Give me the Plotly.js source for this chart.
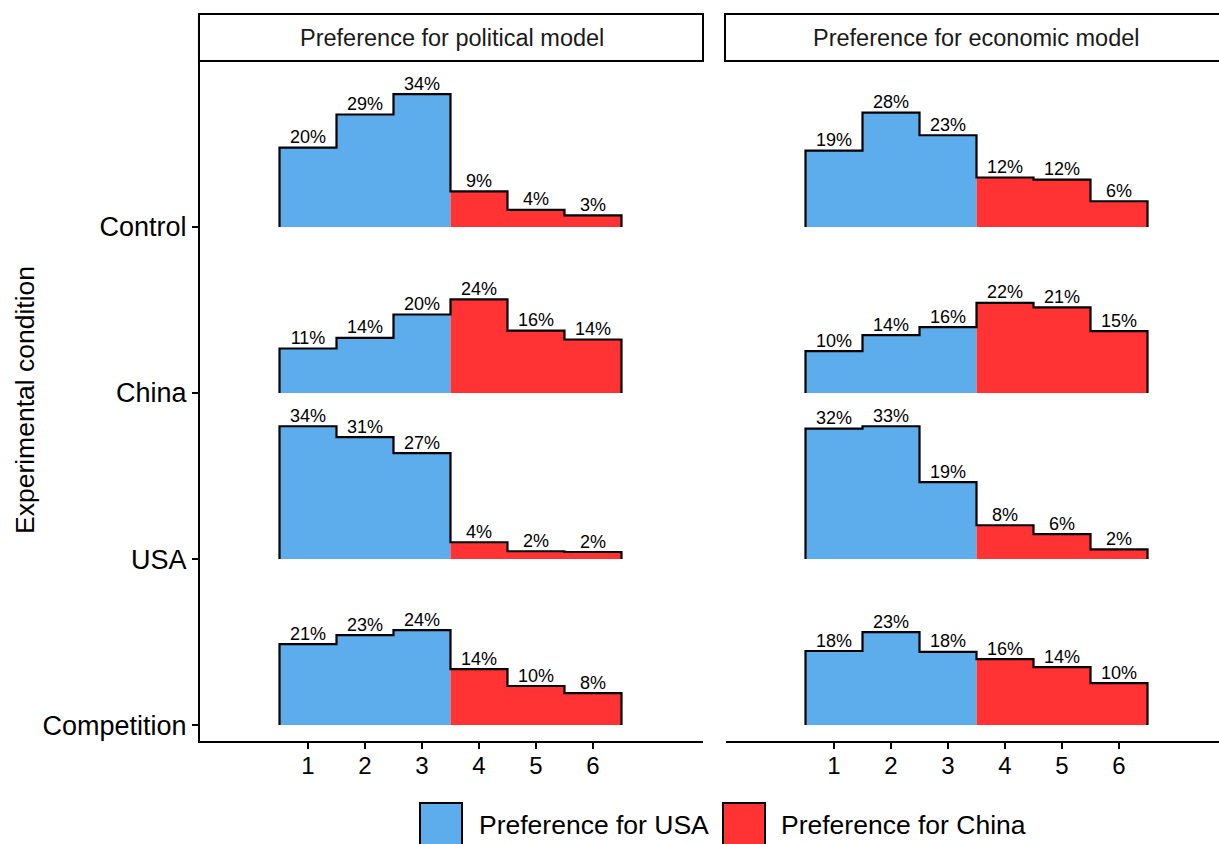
<!DOCTYPE html>
<html>
<head>
<meta charset="utf-8">
<script src="https://cdn.plot.ly/plotly-3.0.1.min.js"></script>
<style>
  html, body { margin: 0; padding: 0; background: #ffffff; }
  #chart { width: 1219px; height: 844px; }
</style>
</head>
<body>
<div id="chart"></div>
<script>
// ---- Data ----
const levels = [1, 2, 3, 4, 5, 6];
const conditions = ["Competition", "USA", "China", "Control"]; // bottom to top
const panels = ["Preference for political model", "Preference for economic model"];
const legendNames = ["Preference for USA", "Preference for China"];

// Percent of respondents at each level (1-6), per condition
const politicalControl     = [20.3, 28.8, 34.0, 9.1, 4.4, 3.0];
const politicalChina       = [11.4, 14.1, 20.1, 24.0, 16.0, 13.7];
const politicalUSA         = [34.0, 31.2, 27.1, 4.3, 2.0, 1.8];
const politicalCompetition = [20.7, 23.0, 24.3, 14.3, 10.0, 8.2];

const economicControl     = [19.0, 28.4, 22.8, 12.3, 11.8, 6.4];
const economicChina       = [10.4, 14.4, 16.4, 22.4, 21.3, 15.4];
const economicUSA         = [32.4, 33.0, 19.1, 8.4, 6.2, 2.4];
const economicCompetition = [18.4, 23.1, 18.2, 16.4, 14.4, 10.4];

const panelData = [
  { Competition: politicalCompetition, USA: politicalUSA, China: politicalChina, Control: politicalControl },
  { Competition: economicCompetition, USA: economicUSA, China: economicChina, Control: economicControl }
];

// ---- Styling ----
const BLUE = "#5DACEB";
const RED = "#FF3333";
const FONT = "Liberation Sans, Arial, Helvetica, sans-serif";
const RIDGE_SCALE = 0.8; // tallest step in a panel spans 0.8 of the row spacing

const traces = [];
panelData.forEach((pd, p) => {
  const xa = p === 0 ? "x" : "x2";
  const ya = p === 0 ? "y" : "y2";
  const maxV = Math.max(...conditions.flatMap(c => pd[c]));
  conditions.forEach((cond, ci) => {
    const vals = pd[cond];
    const base = ci;
    const h = vals.map(v => base + v / maxV * RIDGE_SCALE);
    // filled parts: levels 1-3 (USA) and 4-6 (China)
    [[0, 3, BLUE], [3, 6, RED]].forEach(([a, b, col]) => {
      const xs = [levels[a] - 0.5], ys = [base];
      for (let i = a; i < b; i++) {
        xs.push(levels[i] - 0.5, levels[i] + 0.5);
        ys.push(h[i], h[i]);
      }
      xs.push(levels[b - 1] + 0.5);
      ys.push(base);
      traces.push({
        type: "scatter", mode: "lines", x: xs, y: ys, xaxis: xa, yaxis: ya,
        fill: "toself", fillcolor: col, line: { width: 0, color: col },
        hoverinfo: "skip", showlegend: false
      });
    });
    // outline
    const ox = [levels[0] - 0.5], oy = [base];
    levels.forEach((lv, i) => { ox.push(lv - 0.5, lv + 0.5); oy.push(h[i], h[i]); });
    ox.push(levels[levels.length - 1] + 0.5); oy.push(base);
    traces.push({
      type: "scatter", mode: "lines", x: ox, y: oy, xaxis: xa, yaxis: ya,
      line: { width: 2.2, color: "#000000", shape: "linear" },
      hoverinfo: "skip", showlegend: false
    });
    // labels
    traces.push({
      type: "scatter", mode: "text", x: levels, y: h, xaxis: xa, yaxis: ya,
      text: vals.map(v => Math.round(v) + "%"), textposition: "top center",
      textfont: { family: FONT, size: 18, color: "#000000" },
      hoverinfo: "skip", showlegend: false, cliponaxis: false
    });
  });
});

const xCommon = {
  tickmode: "array", tickvals: levels, ticktext: levels.map(String),
  showgrid: false, zeroline: false, showline: true, linecolor: "#000", linewidth: 2,
  ticks: "outside", ticklen: 6, tickwidth: 2, tickcolor: "#000", ticklabelstandoff: -4,
  tickfont: { family: FONT, size: 24, color: "#000" }, fixedrange: true
};
const yCommon = {
  range: [-0.096, 4.0], showgrid: false, zeroline: false, fixedrange: true,
  tickmode: "array", tickvals: conditions.map((c, i) => i), ticktext: conditions
};

const domL = [0, 503 / 1019], domR = [526 / 1019, 1];

const layout = {
  width: 1219, height: 844,
  margin: { l: 200, r: 0, t: 61, b: 103 },
  paper_bgcolor: "#fff", plot_bgcolor: "#fff",
  showlegend: false,
  font: { family: FONT, color: "#000" },
  xaxis: Object.assign({}, xCommon, { domain: domL, range: [-0.8947, 7.93], anchor: "y" }),
  xaxis2: Object.assign({}, xCommon, { domain: domR, range: [-0.8947, 7.754], anchor: "y2" }),
  yaxis: Object.assign({}, yCommon, {
    domain: [0, 1], anchor: "x", showline: true, linecolor: "#000", linewidth: 2,
    ticks: "outside", ticklen: 6, tickwidth: 2, tickcolor: "#000",
    tickfont: { family: FONT, size: 27, color: "#000" }
  }),
  yaxis2: Object.assign({}, yCommon, {
    domain: [0, 1], anchor: "x2", showline: false, showticklabels: false, ticks: ""
  }),
  shapes: [
    // strip boxes
    { type: "rect", xref: "paper", yref: "paper", x0: -0.001, x1: domL[1], y0: 1, y1: (741 - 14) / 680,
      line: { color: "#000", width: 2 }, fillcolor: "#fff" },
    { type: "rect", xref: "paper", yref: "paper", x0: 525 / 1019, x1: 1.02, y0: 1, y1: (741 - 14) / 680,
      line: { color: "#000", width: 2 }, fillcolor: "#fff" },
    // legend keys
    { type: "rect", xref: "paper", yref: "paper", x0: (420 - 200) / 1019, x1: (462 - 200) / 1019,
      y0: (741 - 803) / 680, y1: (741 - 845) / 680, line: { color: "#000", width: 2 }, fillcolor: BLUE },
    { type: "rect", xref: "paper", yref: "paper", x0: (723 - 200) / 1019, x1: (765 - 200) / 1019,
      y0: (741 - 803) / 680, y1: (741 - 845) / 680, line: { color: "#000", width: 2 }, fillcolor: RED }
  ],
  annotations: [
    { xref: "paper", yref: "paper", x: domL[1] / 2, y: (741 - 38) / 680, text: panels[0], showarrow: false,
      font: { family: FONT, size: 23.5, color: "#1a1a1a" }, xanchor: "center", yanchor: "middle" },
    { xref: "paper", yref: "paper", x: (976 - 200) / 1019, y: (741 - 38) / 680,
      text: panels[1], showarrow: false,
      font: { family: FONT, size: 23.5, color: "#1a1a1a" }, xanchor: "center", yanchor: "middle" },
    { xref: "paper", yref: "paper", x: (25 - 200) / 1019, y: (741 - 400) / 680, text: "Experimental condition",
      textangle: -90, showarrow: false, font: { family: FONT, size: 26.5, color: "#000" },
      xanchor: "center", yanchor: "middle" },
    { xref: "paper", yref: "paper", x: (477 - 200) / 1019, y: (741 - 825) / 680, text: legendNames[0],
      showarrow: false, font: { family: FONT, size: 26.5, color: "#000" }, xanchor: "left", yanchor: "middle" },
    { xref: "paper", yref: "paper", x: (779 - 200) / 1019, y: (741 - 825) / 680, text: legendNames[1],
      showarrow: false, font: { family: FONT, size: 26.5, color: "#000" }, xanchor: "left", yanchor: "middle" }
  ]
};

Plotly.newPlot("chart", traces, layout, { staticPlot: true, displayModeBar: false });
</script>
</body>
</html>
